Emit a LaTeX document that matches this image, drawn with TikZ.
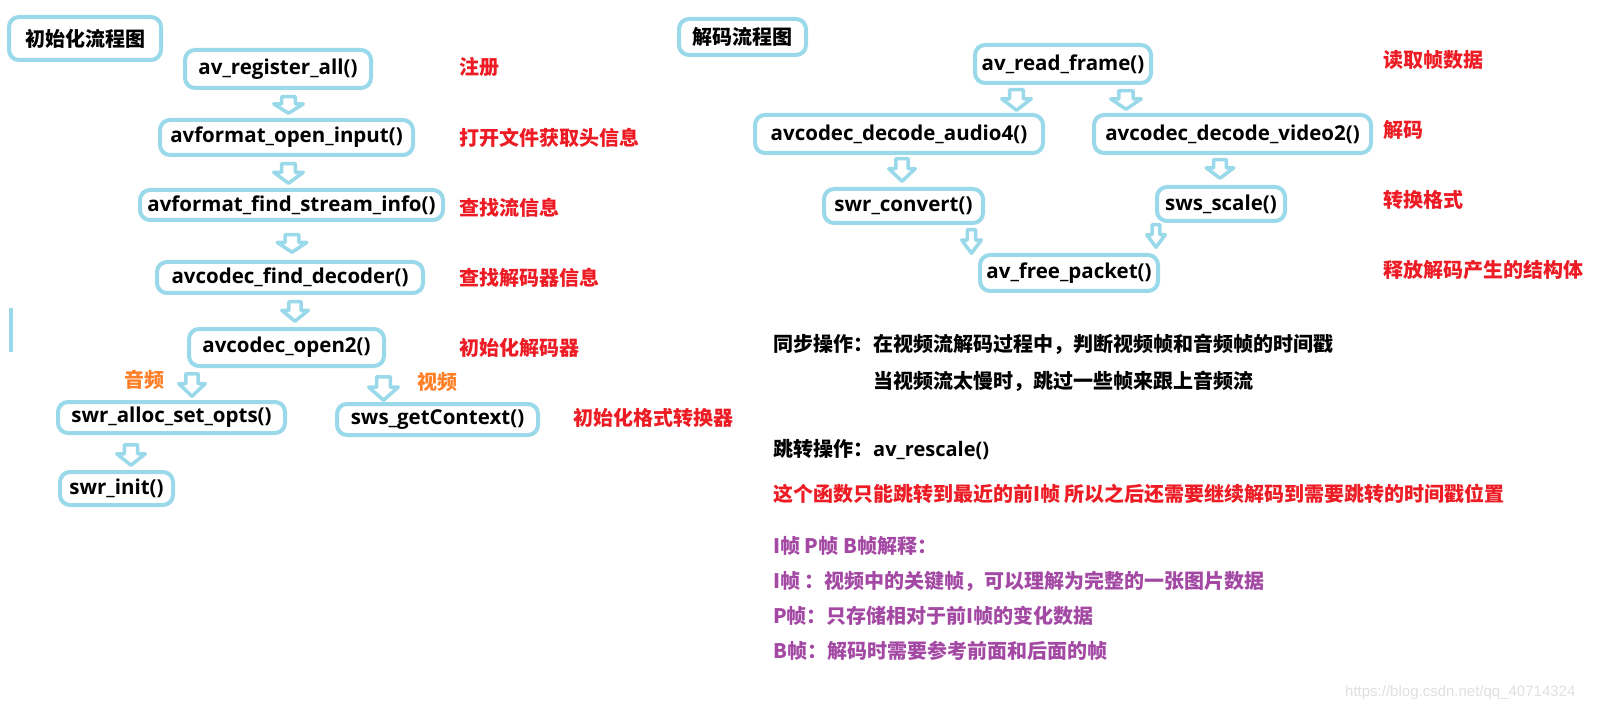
\documentclass[tikz,border=0pt]{standalone}
\usepackage{fontspec}
\newfontfamily\cjk{Noto Sans CJK SC}
\newfontfamily\lat{Open Sans}
\newfontfamily\wmk{Liberation Sans}
\definecolor{boxblue}{RGB}{153,217,234}
\definecolor{redc}{RGB}{237,28,36}
\definecolor{orangec}{RGB}{255,127,39}
\definecolor{purplec}{RGB}{163,73,164}
\tikzset{
  fbox/.style={draw=boxblue, line width=4pt, rounded corners=10pt, inner sep=0pt,
    text=black, font=\lat\bfseries\fontsize{20.5}{24}\selectfont},
  tbox/.style={fbox, font=\cjk\bfseries\fontsize{20}{24}\selectfont},
  bx/.style n args={2}{minimum width=#1pt, minimum height=#2pt},
  note/.style={anchor=west, inner sep=0pt, text=black, font=\cjk\bfseries\fontsize{20}{24}\selectfont},
  rednote/.style={note, text=redc},
  orgnote/.style={note, text=orangec},
  purnote/.style={note, text=purplec},
  arrowsty/.style={draw=boxblue, line width=3.5pt, fill=white, line join=round},
}
% down block arrow: #1 centre x, #2 top y, #3 bottom y, #4 half width (outer)
\newcommand\dnarrow[4]{%
  \pgfmathsetmacro\ax{#1}%
  \pgfmathsetmacro\at{#2+1.75}%
  \pgfmathsetmacro\ab{#3-1.75}%
  \pgfmathsetmacro\ah{#4-1.75}%
  \pgfmathsetmacro\as{#4*0.52-1.75}%
  \pgfmathsetmacro\am{#2+(#3-#2)*0.45}%
  \draw[arrowsty] (\ax-\as,\at) -- (\ax+\as,\at) -- (\ax+\as,\am) -- (\ax+\ah,\am)
    -- (\ax,\ab) -- (\ax-\ah,\am) -- (\ax-\as,\am) -- cycle;}
\begin{document}
\begin{tikzpicture}[x=1pt,y=-1pt]
\fill[white] (0,0) rectangle (1598,711);
\useasboundingbox (0,0) rectangle (1598,711);

% ---------- init flow ----------
\node[tbox, bx={152}{43}] (t1) at (85,38.5) {初始化流程图};
\node[fbox, bx={186}{38}] (reg) at (278,69) {av\_register\_all()};
\node[fbox, bx={253}{35}] (open) at (286.5,137.5) {avformat\_open\_input()};
\node[fbox, bx={303}{30}] (find) at (291.5,205) {avformat\_find\_stream\_info()};
\node[fbox, bx={266}{31}] (dec) at (290,277.5) {avcodec\_find\_decoder()};
\node[fbox, bx={195}{37}] (open2) at (286.5,347.5) {avcodec\_open2()};
\node[fbox, bx={227}{31}] (swra) at (171.5,417.5) {swr\_alloc\_set\_opts()};
\node[fbox, bx={201}{31}] (sws) at (437.5,419.5) {sws\_getContext()};
\node[fbox, bx={113}{33}] (swri) at (116.5,488.5) {swr\_init()};

\dnarrow{288.5}{95}{115}{16.5}
\dnarrow{288.5}{162}{185}{16.5}
\dnarrow{292}{233}{254}{16.5}
\dnarrow{295}{300}{323}{15}
\dnarrow{192}{372}{398}{15}
\dnarrow{383.5}{375}{402}{16.5}
\dnarrow{131}{443}{467}{16}

\draw[boxblue, line width=3.5pt] (11,308) -- (11,352);

\node[orgnote] (lau) at (124,380) {音频};
\node[orgnote] (lvi) at (417,382) {视频};

\node[rednote] (n1) at (459,67) {注册};
\node[rednote] (n2) at (459,137.5) {打开文件获取头信息};
\node[rednote] (n3) at (459,207.5) {查找流信息};
\node[rednote] (n4) at (459,277.5) {查找解码器信息};
\node[rednote] (n5) at (459,347.5) {初始化解码器};
\node[rednote] (n6) at (573,418) {初始化格式转换器};

% ---------- decode flow ----------
\node[tbox, bx={127}{36}] (t2) at (742.5,37) {解码流程图};
\node[fbox, bx={176}{38}] (read) at (1063,64) {av\_read\_frame()};
\node[fbox, bx={288}{38}] (audio) at (899,134) {avcodec\_decode\_audio4()};
\node[fbox, bx={277}{38}] (video) at (1232.5,134) {avcodec\_decode\_video2()};
\node[fbox, bx={159}{34}] (swrc) at (903.5,206) {swr\_convert()};
\node[fbox, bx={128}{34}] (swss) at (1221,204) {sws\_scale()};
\node[fbox, bx={178}{36}] (free) at (1069,273) {av\_free\_packet()};

\dnarrow{1016.5}{88}{112}{16.5}
\dnarrow{1126}{89}{111}{17}
\dnarrow{902}{157}{183}{15}
\dnarrow{1220}{158}{180}{15.5}
\dnarrow{971.5}{228}{255}{11.5}
\dnarrow{1156}{223}{249}{11}

\node[rednote] (m1) at (1383,60) {读取帧数据};
\node[rednote] (m2) at (1383,130) {解码};
\node[rednote] (m3) at (1383,200) {转换格式};
\node[rednote] (m4) at (1383,270) {释放解码产生的结构体};

% ---------- notes ----------
\node[note] (s1) at (773,344) {同步操作：在视频流解码过程中，判断视频帧和音频帧的时间戳};
\node[note] (s2) at (873,381) {当视频流太慢时，跳过一些帧来跟上音频流};
\node[note] (s3) at (773,450) {跳转操作：{\lat av\_rescale()}};
\node[rednote] (s4) at (773,494) {这个函数只能跳转到最近的前I帧 所以之后还需要继续解码到需要跳转的时间戳位置};
\node[purnote] (p1) at (773,546) {I帧 P帧 B帧解释：};
\node[purnote] (p2) at (773,581) {I帧 ：视频中的关键帧，可以理解为完整的一张图片数据};
\node[purnote] (p3) at (773,616) {P帧：只存储相对于前I帧的变化数据};
\node[purnote] (p4) at (773,651) {B帧：解码时需要参考前面和后面的帧};

\node[anchor=west, inner sep=0pt, text=black!12, font=\wmk\fontsize{15}{18}\selectfont] (wm) at (1345,693) {https://blog.csdn.net/qq\_40714324};
\end{tikzpicture}
\end{document}
